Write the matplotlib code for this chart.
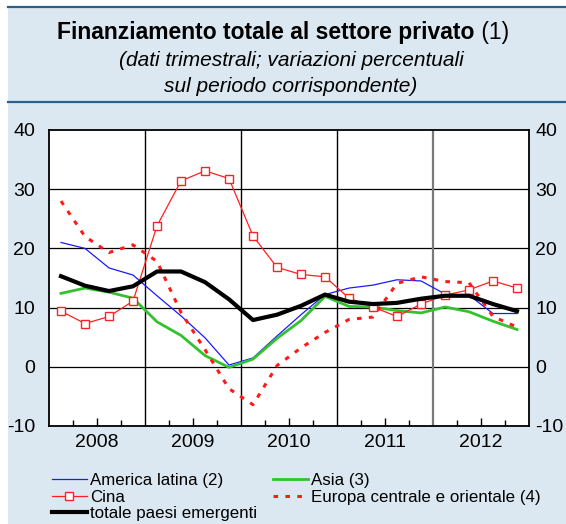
import matplotlib
matplotlib.use("Agg")
import matplotlib.pyplot as plt
from matplotlib.lines import Line2D
import numpy as np

plt.rcParams['font.family'] = ['Liberation Sans', 'DejaVu Sans']

years = ["2008", "2009", "2010", "2011", "2012"]
latam = [21.0, 20.0, 16.7, 15.5, 12.0, 8.6, 4.9, 0.3, 1.5, 5.2,
         8.8, 12.2, 13.3, 13.8, 14.7, 14.5, 12.3, 12.1, 9.0, 9.0]
asia = [12.4, 13.3, 12.6, 11.6, 7.6, 5.3, 1.9, -0.1, 1.3, 4.8,
        7.8, 11.9, 10.2, 10.1, 9.5, 9.1, 10.1, 9.3, 7.7, 6.3]
china = [9.4, 7.3, 8.5, 11.1, 23.8, 31.4, 33.1, 31.8, 22.1, 16.8,
         15.6, 15.2, 11.6, 10.1, 8.5, 10.6, 12.1, 13.0, 14.5, 13.3]
europe = [28.0, 22.0, 19.3, 20.6, 17.8, 9.2, 2.9, -3.7, -6.4, 0.2,
          3.2, 5.8, 8.0, 8.4, 14.1, 15.2, 14.4, 14.2, 8.5, 6.7]
total = [15.3, 13.7, 12.8, 13.6, 16.1, 16.1, 14.3, 11.4, 7.9, 8.8,
         10.3, 12.2, 11.0, 10.6, 10.8, 11.5, 12.0, 12.0, 10.6, 9.4]
labels = ["America latina (2)", "Asia (3)", "Cina",
          "Europa centrale e orientale (4)", "totale paesi emergenti"]
yticks = [-10, 0, 10, 20, 30, 40]

W, H = 566, 524
fig = plt.figure(figsize=(W / 100, H / 100), dpi=100)
fig.patch.set_facecolor("white")

BG = "#dce8f1"
DARK = "#2b6089"

def fx(px):
    return px / W

def fy(py):
    return 1 - py / H

bgax = fig.add_axes([fx(8), 0, 1 - fx(8), fy(7)], zorder=-5)
bgax.set_facecolor(BG)
bgax.set_xticks([]); bgax.set_yticks([])
for s in bgax.spines.values():
    s.set_visible(False)
for yy in (7, 102):
    fig.add_artist(Line2D([fx(8), 1], [fy(yy), fy(yy)], transform=fig.transFigure,
                          color=DARK, lw=1.6, zorder=1))

# Title
TS = 16.5
t1 = fig.text(fx(283), fy(33), "Finanziamento totale al settore privato", fontsize=TS,
              fontweight="bold", ha="center", va="center")
tail = fig.text(0, 0, " (1)", fontsize=TS, ha="left", va="center")
fig.canvas.draw()
r = fig.canvas.get_renderer()
tw = tail.get_window_extent(r).width
t1.set_position((fx(283) - (tw / 2) / W, fy(33)))
bb = t1.get_window_extent(r)
tail.set_position((bb.x1 / W, fy(33)))

fig.text(fx(291), fy(61), "(dati trimestrali; variazioni percentuali", fontsize=15,
         style="italic", ha="center", va="center")
fig.text(fx(291), fy(87), "sul periodo corrispondente)", fontsize=15,
         style="italic", ha="center", va="center")

ax = fig.add_axes([fx(49), fy(426), fx(529) - fx(49), fy(130) - fy(426)], zorder=2)
ax.set_facecolor("white")
x = np.arange(len(total)) + 0.5
n = len(total)

for v in (0, 10, 20, 30):
    ax.axhline(v, color="black", lw=0.9, zorder=1)
for b in (4, 8, 12, 16):
    ax.axvline(b, color="black" if b < 16 else "#7a7a7a", lw=1.0 if b < 16 else 1.6, zorder=1)

l_lat, = ax.plot(x, latam, color="#1a1aff", lw=0.9, zorder=3)
l_asia, = ax.plot(x, asia, color="#33c22e", lw=2.0, zorder=3)
l_eur, = ax.plot(x, europe, color="#ff1a1a", lw=2.2, dashes=(1.5, 2.4), zorder=3)
l_chn, = ax.plot(x, china, color="#ff2020", lw=0.9, marker="s", markersize=5.5,
                 markerfacecolor="white", markeredgecolor="#ff2020", markeredgewidth=1.0,
                 zorder=4)
l_tot, = ax.plot(x, total, color="black", lw=3.0, zorder=5)

ax.set_xlim(0, n)
ax.set_ylim(-10, 40)
ax.set_yticks(yticks)
ax.set_yticklabels([str(v) for v in yticks])
ax.tick_params(axis="y", length=0, labelsize=14, pad=10)
ax.set_xticks([2, 6, 10, 14, 18])
ax.set_xticklabels(years)
ax.set_xticks([1, 3, 5, 7, 9, 11, 13, 15, 17, 19], minor=True)
ax.tick_params(axis="x", which="major", direction="in", length=6, width=1.0,
               labelsize=14, pad=6)
ax.tick_params(axis="x", which="minor", direction="in", length=4, width=1.0)
for s in ax.spines.values():
    s.set_linewidth(1.3)
    s.set_color("black")

ax2 = ax.twinx()
ax2.set_ylim(-10, 40)
ax2.set_yticks(yticks)
ax2.set_yticklabels([str(v) for v in yticks])
ax2.tick_params(axis="y", length=0, labelsize=14, pad=4.5)
for s in ax2.spines.values():
    s.set_visible(False)

LFS = 12.2
common = dict(loc="upper left", frameon=False, fontsize=LFS, handlelength=2.05,
              handletextpad=0.18, labelspacing=0.1, borderaxespad=0, borderpad=0,
              numpoints=1)
fig.legend([l_lat, l_chn, l_tot], [labels[0], labels[2], labels[4]],
           bbox_to_anchor=(fx(52), fy(473)), **common)
fig.legend([l_asia, l_eur], [labels[1], labels[3]],
           bbox_to_anchor=(fx(273), fy(473)), **common)

fig.savefig("out.png", dpi=100, facecolor=fig.get_facecolor())
